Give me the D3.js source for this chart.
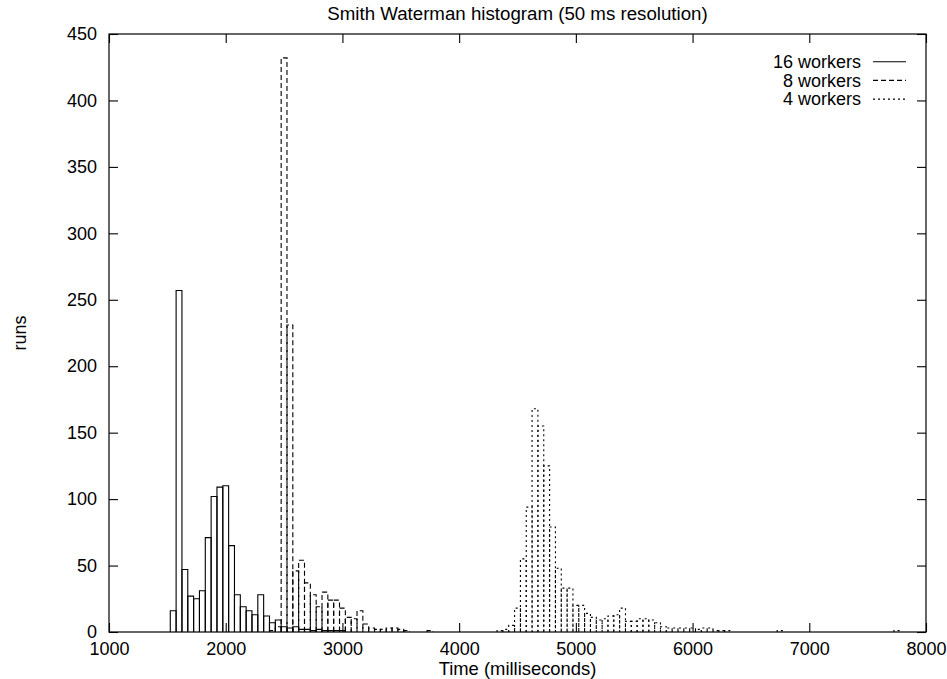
<!DOCTYPE html>
<html>
<head>
<meta charset="utf-8">
<script src="https://cdn.jsdelivr.net/npm/d3@7"></script>
<style>
  html, body { margin: 0; padding: 0; background: #fff; }
  svg { display: block; }
  text { font-family: "Liberation Sans", Arial, Helvetica, sans-serif; fill: #000; }
</style>
</head>
<body>
<svg id="chart" width="947" height="679"></svg>
<script>
// ---- Data (bin centres in ms, 50 ms bins; counts = runs) ----
const chartTitle = "Smith Waterman histogram (50 ms resolution)";
const xAxisTitle = "Time (milliseconds)";
const yAxisTitle = "runs";
const seriesNames = ["16 workers", "8 workers", "4 workers"];

const times16 = [1550,1600,1650,1700,1750,1800,1850,1900,1950,2000,2050,2100,2150,2200,2250,2300,2350,2400,2450,2500,2550,2600,2650,2700,2750,2800,2850,2900,2950,3000];
const runs16  = [16,257,47,27,25,31,71,102,109,110,65,28,19,16,13,28,12,7,9,4,3,4,2,2,1,2,1,1,1,1];

const times8 = [2400,2450,2500,2550,2600,2650,2700,2750,2800,2850,2900,2950,3000,3050,3100,3150,3200,3250,3300,3350,3400,3450,3500,3550,3750];
const runs8  = [1,4,432,231,46,54,37,28,19,30,24,24,18,11,10,16,6,3,2,2,3,3,2,1,1];

const times4 = [4350,4400,4450,4500,4550,4600,4650,4700,4750,4800,4850,4900,4950,5000,5050,5100,5150,5200,5250,5300,5350,5400,5450,5500,5550,5600,5650,5700,5750,5800,5850,5900,5950,6000,6050,6100,6150,6200,6250,6300,6750,7750];
const runs4  = [1,2,5,18,55,94,168,155,125,79,48,33,33,20,20,14,11,9,10,12,13,18,8,8,10,10,9,7,4,3,3,3,3,3,2,3,3,1,1,1,1,1];

const xTicks = [1000,2000,3000,4000,5000,6000,7000,8000];
const yTicks = [0,50,100,150,200,250,300,350,400,450];
const binWidth = 50;

// ---- Layout ----
const plotL = 109, plotR = 926, plotT = 34, plotB = 632;
const fontSize = 18;

const svg = d3.select("#chart");
const x = d3.scaleLinear().domain([1000, 8000]).range([plotL, plotR]);
const y = d3.scaleLinear().domain([0, 450]).range([plotB, plotT]);

const styles = [
  { dash: null },
  { dash: "5,3" },
  { dash: "2,3" }
];

const series = [
  { name: seriesNames[0], times: times16, runs: runs16, style: styles[0] },
  { name: seriesNames[1], times: times8, runs: runs8, style: styles[1] },
  { name: seriesNames[2], times: times4, runs: runs4, style: styles[2] }
];

// bars
series.forEach(s => {
  const data = s.times.map((t, i) => ({ t, v: s.runs[i] }));
  svg.append("g")
    .selectAll("path")
    .data(data)
    .join("path")
    .attr("d", d => {
      const x0 = x(d.t - binWidth / 2), x1 = x(d.t + binWidth / 2);
      const y0 = y(0), y1 = y(d.v);
      return `M${x0},${y0}V${y1}H${x1}V${y0}`;
    })
    .attr("fill", "none")
    .attr("stroke", "#000")
    .attr("stroke-width", 1.1)
    .attr("stroke-dasharray", s.style.dash);
});

// axes (gnuplot style: inward ticks, mirrored)
const tickLen = 9;
const gx = svg.append("g").attr("transform", `translate(0,${plotB})`)
  .call(d3.axisBottom(x).tickValues(xTicks).tickSize(-tickLen).tickPadding(10).tickFormat(d3.format("d")));
const gxTop = svg.append("g").attr("transform", `translate(0,${plotT})`)
  .call(d3.axisTop(x).tickValues(xTicks).tickSize(-tickLen).tickFormat(""));
const gy = svg.append("g").attr("transform", `translate(${plotL},0)`)
  .call(d3.axisLeft(y).tickValues(yTicks).tickSize(-tickLen).tickPadding(12).tickFormat(d3.format("d")));
const gyRight = svg.append("g").attr("transform", `translate(${plotR},0)`)
  .call(d3.axisRight(y).tickValues(yTicks).tickSize(-tickLen).tickFormat(""));

[gx, gxTop, gy, gyRight].forEach(g => {
  g.select(".domain").remove();
  g.selectAll("line").attr("stroke", "#000").attr("stroke-width", 1.1);
  g.selectAll("text").attr("font-size", fontSize).attr("font-family", "'Liberation Sans', Arial, Helvetica, sans-serif").attr("fill", "#000");
});

// border
svg.append("rect")
  .attr("x", plotL).attr("y", plotT)
  .attr("width", plotR - plotL).attr("height", plotB - plotT)
  .attr("fill", "none").attr("stroke", "#000").attr("stroke-width", 1.2);

// title & axis titles
svg.append("text")
  .attr("x", (plotL + plotR) / 2).attr("y", 20)
  .attr("text-anchor", "middle").attr("font-size", 18.7)
  .text(chartTitle);

svg.append("text")
  .attr("x", (plotL + plotR) / 2).attr("y", 675)
  .attr("text-anchor", "middle").attr("font-size", 18.4)
  .text(xAxisTitle);

svg.append("text")
  .attr("transform", `translate(26,${(plotT + plotB) / 2}) rotate(-90)`)
  .attr("text-anchor", "middle").attr("font-size", fontSize)
  .text(yAxisTitle);

// legend
const legend = svg.append("g");
series.forEach((s, i) => {
  const cy = 61.7 + i * 18.7;
  legend.append("text")
    .attr("x", 861).attr("y", cy + 6.3)
    .attr("text-anchor", "end").attr("font-size", fontSize)
    .text(s.name);
  legend.append("line")
    .attr("x1", 873).attr("x2", 906).attr("y1", cy).attr("y2", cy)
    .attr("stroke", "#000").attr("stroke-width", 1.1)
    .attr("stroke-dasharray", s.style.dash);
});
</script>
</body>
</html>
